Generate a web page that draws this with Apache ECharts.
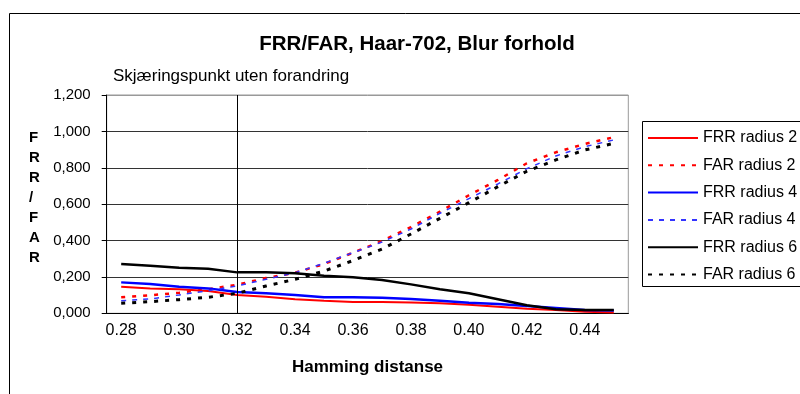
<!DOCTYPE html>
<html>
<head>
<meta charset="utf-8">
<script src="https://cdn.jsdelivr.net/npm/echarts@6/dist/echarts.min.js"></script>
<style>
html, body { margin: 0; padding: 0; background: #fff; }
#chart { width: 800px; height: 394px; }
</style>
</head>
<body>
<div id="chart"></div>
<script>
// hamming distance categories
var categories = ['0.28', '0.29', '0.30', '0.31', '0.32', '0.33', '0.34', '0.35', '0.36',
	'0.37', '0.38', '0.39', '0.40', '0.41', '0.42', '0.43', '0.44', '0.45'];
var yTicks = [0, 0.2, 0.4, 0.6, 0.8, 1.0, 1.2];
var crossAt = '0.32';

var frr2 = [0.146, 0.137, 0.132, 0.123, 0.101, 0.091, 0.077, 0.069, 0.062, 0.062, 0.060, 0.055, 0.047, 0.036, 0.025, 0.018, 0.009, 0.005];
var far2 = [0.088, 0.099, 0.113, 0.132, 0.157, 0.194, 0.223, 0.271, 0.333, 0.397, 0.474, 0.559, 0.649, 0.733, 0.825, 0.885, 0.931, 0.968];
var frr4 = [0.170, 0.161, 0.146, 0.137, 0.117, 0.110, 0.101, 0.088, 0.088, 0.086, 0.079, 0.069, 0.058, 0.051, 0.040, 0.029, 0.018, 0.015];
var far4 = [0.069, 0.079, 0.101, 0.124, 0.150, 0.187, 0.223, 0.275, 0.333, 0.392, 0.463, 0.550, 0.630, 0.711, 0.795, 0.865, 0.916, 0.953];
var frr6 = [0.271, 0.262, 0.250, 0.245, 0.225, 0.225, 0.220, 0.207, 0.198, 0.183, 0.159, 0.132, 0.110, 0.077, 0.044, 0.022, 0.018, 0.018];
var far6 = [0.055, 0.064, 0.075, 0.088, 0.110, 0.150, 0.187, 0.232, 0.290, 0.353, 0.436, 0.522, 0.608, 0.696, 0.781, 0.843, 0.898, 0.934];

var font = 'Arial, "Liberation Sans", sans-serif';

var myChart = echarts.init(document.getElementById('chart'));
var option = {
	animation: false,
	backgroundColor: '#fff',
	title: [
		{
			text: 'FRR/FAR, Haar-702, Blur forhold',
			left: 412,
			top: 29,
			textAlign: 'center',
			textStyle: { fontFamily: font, fontSize: 20.5, fontWeight: 'bold', color: '#000' }
		},
		{
			text: 'Skjæringspunkt uten forandring',
			left: 108,
			top: 63,
			textStyle: { fontFamily: font, fontSize: 17, fontWeight: 'normal', color: '#000' }
		}
	],
	graphic: [
		{
			type: 'rect',
			shape: { x: 9.5, y: 13.5, width: 820, height: 420 },
			style: { fill: 'none', stroke: '#000', lineWidth: 1 },
			silent: true
		},
		{
			type: 'rect',
			shape: { x: 642.5, y: 121.5, width: 180, height: 165 },
			style: { fill: '#fff', stroke: '#000', lineWidth: 1 },
			silent: true,
			z: 1
		},
		{
			type: 'text',
			left: 29,
			top: 128,
			style: {
				text: 'F\nR\nR\n/\nF\nA\nR',
				font: 'bold 15px ' + font,
				fill: '#000',
				lineHeight: 20,
				align: 'center'
			}
		}
	],
	legend: {
		orient: 'vertical',
		left: 642,
		top: 125,
		itemWidth: 50,
		itemHeight: 16,
		itemGap: 11.3,
		z: 5,
		itemStyle: { opacity: 0 },
		textStyle: { fontFamily: font, fontSize: 16, lineHeight: 16, color: '#000' },
		data: ['FRR radius 2', 'FAR radius 2', 'FRR radius 4', 'FAR radius 4', 'FRR radius 6', 'FAR radius 6']
	},
	grid: {
		left: 106.7,
		right: 171.7,
		top: 95,
		bottom: 80.7,
		show: true,
		borderColor: '#999',
		borderWidth: 1
	},
	xAxis: {
		type: 'category',
		data: categories,
		boundaryGap: true,
		name: 'Hamming distanse',
		nameLocation: 'middle',
		nameGap: 46,
		nameTextStyle: { fontFamily: font, fontSize: 17, fontWeight: 'bold', color: '#000' },
		axisLine: { lineStyle: { color: '#000', width: 1 } },
		axisTick: { interval: 0, length: 5, lineStyle: { color: '#000' } },
		axisLabel: { interval: 1, margin: 9, fontFamily: font, fontSize: 16, color: '#000' }
	},
	yAxis: {
		type: 'value',
		min: yTicks[0],
		max: yTicks[yTicks.length - 1],
		interval: 0.2,
		axisLine: { show: true, lineStyle: { color: '#000', width: 1 } },
		axisTick: { show: true, length: 5, lineStyle: { color: '#000' } },
		axisLabel: {
			margin: 16,
			fontFamily: font,
			fontSize: 15,
			color: '#000',
			formatter: function (v) {
				return v.toFixed(3).replace('.', ',');
			}
		},
		splitLine: {
			show: true,
			lineStyle: { color: ['#000', '#333', '#333', '#333', '#333', '#333', '#999'], width: 1 }
		}
	},
	series: [
		{
			name: 'FRR radius 2',
			type: 'line',
			symbol: 'none',
			color: '#ff0000',
			lineStyle: { color: '#ff0000', width: 2 },
			data: frr2,
			markLine: {
				silent: true,
				symbol: 'none',
				label: { show: false },
				lineStyle: { color: '#000', width: 1, type: 'solid' },
				data: [{ xAxis: crossAt }]
			}
		},
		{
			name: 'FAR radius 2',
			type: 'line',
			symbol: 'none',
			color: '#ff0000',
			lineStyle: { color: '#ff0000', width: 2.5, type: [4, 7] },
			data: far2
		},
		{
			name: 'FRR radius 4',
			type: 'line',
			symbol: 'none',
			color: '#0000ff',
			lineStyle: { color: '#0000ff', width: 2.5 },
			data: frr4
		},
		{
			name: 'FAR radius 4',
			type: 'line',
			symbol: 'none',
			color: '#3333ff',
			lineStyle: { color: '#3333ff', width: 1.5, type: [5, 6] },
			data: far4
		},
		{
			name: 'FRR radius 6',
			type: 'line',
			symbol: 'none',
			color: '#000',
			lineStyle: { color: '#000', width: 2.5 },
			data: frr6
		},
		{
			name: 'FAR radius 6',
			type: 'line',
			symbol: 'none',
			color: '#000',
			lineStyle: { color: '#000', width: 3, type: [4, 7] },
			data: far6
		}
	]
};
myChart.setOption(option);
</script>
</body>
</html>
